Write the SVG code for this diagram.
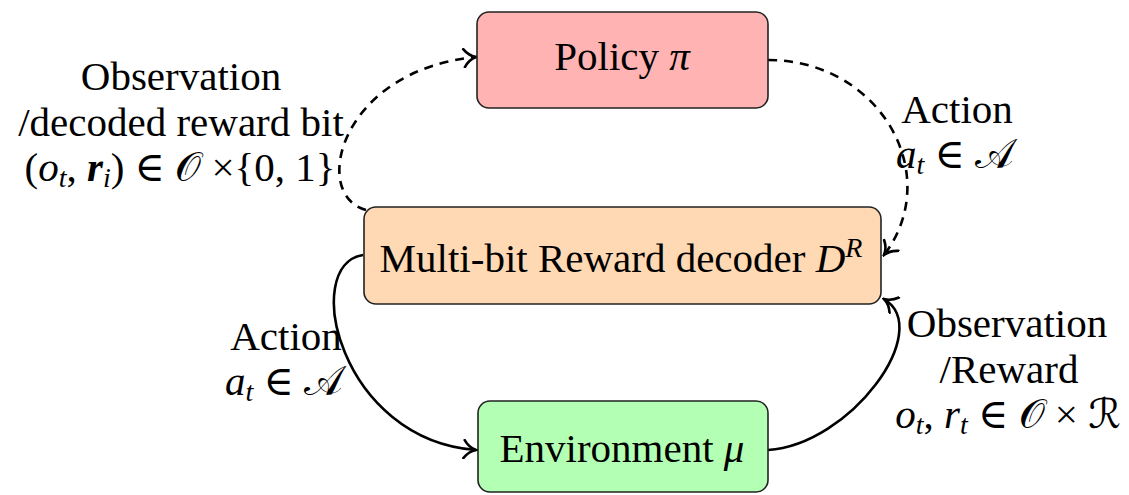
<svg xmlns="http://www.w3.org/2000/svg" width="1129" height="495" viewBox="0 0 1129 495">
<style>
text{font-family:"Liberation Serif","DejaVu Serif",serif;font-size:41px;fill:#000}
.m{font-style:italic}
.s{font-size:28px}
.box{stroke:#222;stroke-width:1.6}
.c{fill:none;stroke:#000;stroke-width:2.6}
.d{stroke-dasharray:9 7}
.cal{font-family:"DejaVu Serif","DejaVu Sans",serif;font-style:normal}
</style>
<defs>
<marker id="arr" viewBox="-14 -10 16 20" markerWidth="16" markerHeight="20" refX="0" refY="0" orient="auto" markerUnits="userSpaceOnUse">
<path d="M-12,-9 C-8,-3 -3,-0.8 0,0 C-3,0.8 -8,3 -12,9" fill="none" stroke="#000" stroke-width="2.6" stroke-linecap="round"/>
</marker>
</defs>
<g id="connectors">
<path class="c d" d="M768,60 C880,60 945,175 884,255" marker-end="url(#arr)"/>
<path class="c d" d="M366,210 C310,195 340,70 476,57" marker-end="url(#arr)"/>
<path class="c" d="M363,255 C300,265 340,440 476,450" marker-end="url(#arr)"/>
<path class="c" d="M768,450 C850,445 935,330 884,299" marker-end="url(#arr)"/>
</g>
<g id="policy">
<rect class="box" x="477" y="12" width="291" height="96" rx="12" fill="#FFB3B3"/>
<text x="622" y="70" text-anchor="middle">Policy <tspan class="m">π</tspan></text>
</g>
<g id="decoder">
<rect class="box" x="364" y="207" width="517" height="97" rx="12" fill="#FFD9B3"/>
<text x="621" y="272" text-anchor="middle">Multi-bit Reward decoder <tspan class="m">D</tspan><tspan class="m s" dy="-15">R</tspan></text>
</g>
<g id="environment">
<rect class="box" x="478" y="401" width="290" height="91" rx="12" fill="#B3FFB3"/>
<text x="622" y="462" text-anchor="middle">Environment <tspan class="m">μ</tspan></text>
</g>
<g id="labels">
<text x="181" y="90" text-anchor="middle">Observation</text>
<text x="181" y="136" text-anchor="middle">/decoded reward bit</text>
<text x="180" y="181" text-anchor="middle">(<tspan class="m">o</tspan><tspan class="m s" dy="6">t</tspan><tspan dy="-6">, </tspan><tspan class="m" font-weight="bold">r</tspan><tspan class="m s" dy="6">i</tspan><tspan dy="-6">) ∈ </tspan><tspan class="cal">𝒪</tspan> ×{0, 1}</text>
<text x="957" y="123" text-anchor="middle">Action</text>
<text x="955" y="168" text-anchor="middle"><tspan class="m">a</tspan><tspan class="m s" dy="6">t</tspan><tspan dy="-6"> ∈ </tspan><tspan class="cal">𝒜</tspan></text>
<text x="286" y="350" text-anchor="middle">Action</text>
<text x="284" y="395" text-anchor="middle"><tspan class="m">a</tspan><tspan class="m s" dy="6">t</tspan><tspan dy="-6"> ∈ </tspan><tspan class="cal">𝒜</tspan></text>
<text x="1007" y="337" text-anchor="middle">Observation</text>
<text x="1009" y="383" text-anchor="middle">/Reward</text>
<text x="1008" y="428" text-anchor="middle"><tspan class="m">o</tspan><tspan class="m s" dy="6">t</tspan><tspan dy="-6">, </tspan><tspan class="m">r</tspan><tspan class="m s" dy="6">t</tspan><tspan dy="-6"> ∈ </tspan><tspan class="cal">𝒪</tspan> × <tspan class="cal">ℛ</tspan></text>
</g>
</svg>
